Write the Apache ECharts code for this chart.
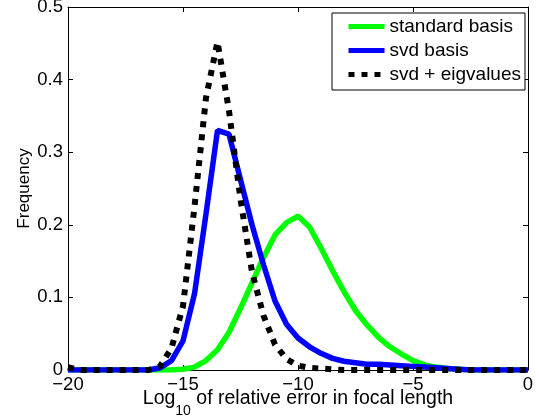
<!DOCTYPE html>
<html>
<head>
<meta charset="utf-8">
<script src="https://cdn.jsdelivr.net/npm/echarts@6/dist/echarts.min.js"></script>
<style>
html,body{margin:0;padding:0;background:#fff;}
#c{width:539px;height:416px;}
</style>
</head>
<body>
<div id="c"></div>
<script>
// bin centres (log10 of relative error)
var xs = [-20,-19.5,-19,-18.5,-18,-17.5,-17,-16.5,-16,-15.5,-15,-14.5,-14,-13.5,-13,-12.5,-12,-11.5,-11,-10.5,-10,-9.5,-9,-8.5,-8,-7.5,-7,-6.5,-6,-5.5,-5,-4.5,-4,-3.5,-3,-2.5,-2,-1.5,-1,-0.5,0];
var standardBasis = [0,0,0,0,0,0,0,0,0,0,0.001,0.004,0.013,0.028,0.052,0.085,0.12,0.155,0.186,0.203,0.212,0.197,0.168,0.137,0.108,0.082,0.062,0.045,0.032,0.022,0.013,0.007,0.004,0.002,0.001,0,0,0,0,0,0];
var svdBasis = [0,0,0,0,0,0,0,0,0.003,0.013,0.04,0.105,0.215,0.33,0.325,0.262,0.2,0.145,0.095,0.063,0.044,0.032,0.023,0.016,0.012,0.01,0.008,0.008,0.007,0.006,0.005,0.004,0.003,0.002,0.001,0,0,0,0,0,0];
var svdEig = [0.004,0,0,0,0,0,0,0,0.005,0.03,0.088,0.225,0.375,0.452,0.357,0.235,0.135,0.075,0.035,0.015,0.006,0.003,0.002,0.001,0,0,0,0,0,0,0,0,0,0,0,0,0,0,0,0,0];
var seriesNames = ['standard basis','svd basis','svd + eigvalues'];
var xTicks = {min:-20, max:0, step:5};
var yTicks = {min:0, max:0.5, step:0.1};

function pairs(ys){ return xs.map(function(x,i){ return [x, ys[i]]; }); }
var FONT = 'Liberation Sans, Arial, Helvetica, sans-serif';
var fmtX = function(v){ return String(v).replace('-', '\u2212'); };
var fmtY = function(v){ return v === 0 ? '0' : String(Math.round(v*10)/10); };

function xAxis(pos, labels){
  return {
    type:'value', position:pos, min:xTicks.min, max:xTicks.max, interval:xTicks.step,
    nameMoveOverlap:false,
    axisLine:{show:true, onZero:false, lineStyle:{color:'#000', width:1}},
    axisTick:{show:true, inside:true, length:5, lineStyle:{color:'#000', width:1}},
    axisLabel:{show:labels, color:'#000', fontSize:18.5, fontFamily:FONT, margin:5, formatter:fmtX},
    splitLine:{show:false}
  };
}
function yAxis(pos, labels){
  return {
    type:'value', position:pos, min:yTicks.min, max:yTicks.max, interval:yTicks.step,
    nameMoveOverlap:false,
    axisLine:{show:true, onZero:false, lineStyle:{color:'#000', width:1}},
    axisTick:{show:true, inside:true, length:5, lineStyle:{color:'#000', width:1}},
    axisLabel:{show:labels, color:'#000', fontSize:18.5, fontFamily:FONT, margin:5, formatter:fmtY},
    splitLine:{show:false}
  };
}
var xa0 = xAxis('bottom', true);
xa0.name = '{a|Log}{sub|10}{a| of relative error in focal length}';
xa0.nameLocation = 'middle';
xa0.nameGap = 19;
xa0.nameTextStyle = {color:'#000', fontFamily:FONT, fontSize:19.5,
  rich:{
    a:{fontSize:19.5, fontFamily:FONT, color:'#000', verticalAlign:'top', lineHeight:20},
    sub:{fontSize:14, fontFamily:FONT, color:'#000', verticalAlign:'top', lineHeight:14, padding:[15,0,0,0]}
  }};
var ya0 = yAxis('left', true);
ya0.name = 'Frequency';
ya0.nameLocation = 'middle';
ya0.nameRotate = 90;
ya0.nameGap = 35;
ya0.nameTextStyle = {color:'#000', fontFamily:FONT, fontSize:17};

var chart = echarts.init(document.getElementById('c'), null, {renderer:'canvas'});
chart.setOption({
  animation:false,
  backgroundColor:'#fff',
  grid:{left:68, right:11, top:7, bottom:46, containLabel:false, outerBoundsMode:'none'},
  xAxis:[xa0, xAxis('top', false)],
  yAxis:[ya0, yAxis('right', false)],
  legend:{
    orient:'vertical', left:332, top:13,
    itemWidth:36, itemHeight:14, itemGap:5,
    padding:[4,4,6,14],
    borderColor:'#000', borderWidth:1, borderRadius:0, backgroundColor:'#fff',
    textStyle:{color:'#000', fontSize:19, fontFamily:FONT, lineHeight:18},
    itemStyle:{opacity:0},
    lineStyle:{width:5},
    data:seriesNames
  },
  series:[
    {name:seriesNames[0], type:'line', data:pairs(standardBasis), showSymbol:false, symbol:'none',
     lineStyle:{color:'#00ff00', width:5.5}, itemStyle:{color:'#00ff00'}, z:2},
    {name:seriesNames[1], type:'line', data:pairs(svdBasis), showSymbol:false, symbol:'none',
     lineStyle:{color:'#0000ff', width:5.5}, itemStyle:{color:'#0000ff'}, z:3},
    {name:seriesNames[2], type:'line', data:pairs(svdEig), showSymbol:false, symbol:'none',
     lineStyle:{color:'#000000', width:6, type:[6,7], cap:'butt'}, itemStyle:{color:'#000000'}, z:4}
  ]
});
</script>
</body>
</html>
